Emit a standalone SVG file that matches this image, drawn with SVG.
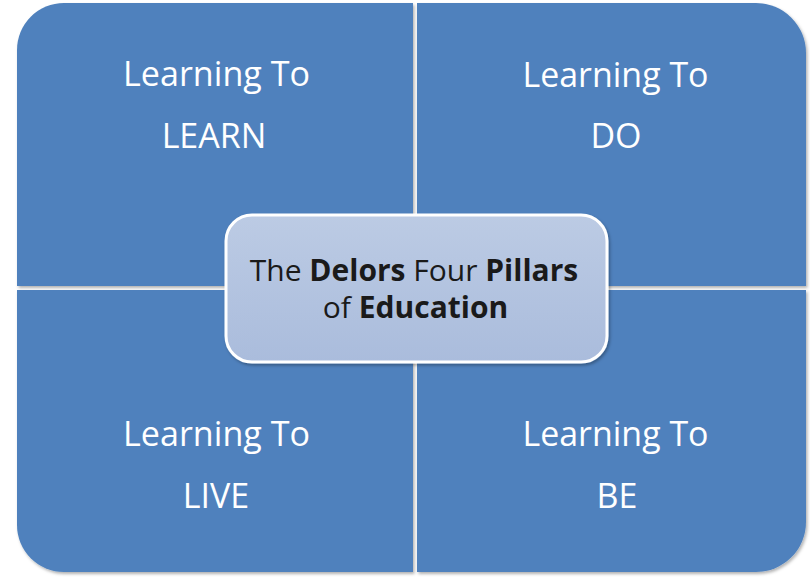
<svg xmlns="http://www.w3.org/2000/svg" width="810" height="577" viewBox="0 0 810 577">
<defs>
<linearGradient id="cg" x1="0" y1="0" x2="0" y2="1">
<stop offset="0" stop-color="#bccbe4"/>
<stop offset="1" stop-color="#aabcdc"/>
</linearGradient>
<filter id="sh" x="-5%" y="-5%" width="110%" height="110%">
<feDropShadow dx="1.5" dy="2" stdDeviation="1.5" flood-color="#000" flood-opacity="0.3"/>
</filter>
<style>
.q{fill:#4f81bd;filter:url(#sh)}
.t{font-family:"Open Sans","Noto Sans",sans-serif;font-size:34px;fill:#ffffff;text-anchor:middle}
.c{font-family:"Open Sans","Noto Sans",sans-serif;font-size:30px;fill:#1a1a1a;text-anchor:middle}
.b{font-weight:bold}
</style>
</defs>
<rect width="810" height="577" fill="#ffffff"/>
<g id="learn">
<path class="q" d="M17,50 A47,47 0 0 1 64,3 L413,3 L413,286 L17,286 Z"/>
<text class="t" x="216.5" y="86" textLength="187" lengthAdjust="spacingAndGlyphs">Learning To</text>
<text class="t" x="214" y="148">LEARN</text>
</g>
<g id="do">
<path class="q" d="M417,3 L756,3 A50,50 0 0 1 806,53 L806,286 L417,286 Z"/>
<text class="t" x="615.5" y="87" textLength="186" lengthAdjust="spacingAndGlyphs">Learning To</text>
<text class="t" x="616" y="148">DO</text>
</g>
<g id="live">
<path class="q" d="M17,290 L413,290 L413,572 L64,572 A47,47 0 0 1 17,525 Z"/>
<text class="t" x="216.5" y="446" textLength="187" lengthAdjust="spacingAndGlyphs">Learning To</text>
<text class="t" x="216" y="508">LIVE</text>
</g>
<g id="be">
<path class="q" d="M417,290 L806,290 L806,522 A50,50 0 0 1 756,572 L417,572 Z"/>
<text class="t" x="615.5" y="446" textLength="186" lengthAdjust="spacingAndGlyphs">Learning To</text>
<text class="t" x="617" y="508">BE</text>
</g>
<g id="center">
<rect x="226" y="215" width="381" height="147" rx="26" ry="26" fill="url(#cg)" stroke="#ffffff" stroke-width="3" filter="url(#sh)"/>
<text class="c" x="414" y="281">The <tspan class="b">Delors</tspan> Four <tspan class="b">Pillars</tspan></text>
<text class="c" x="415.5" y="318">of <tspan class="b">Education</tspan></text>
</g>
<g id="connectors"></g>
</svg>
